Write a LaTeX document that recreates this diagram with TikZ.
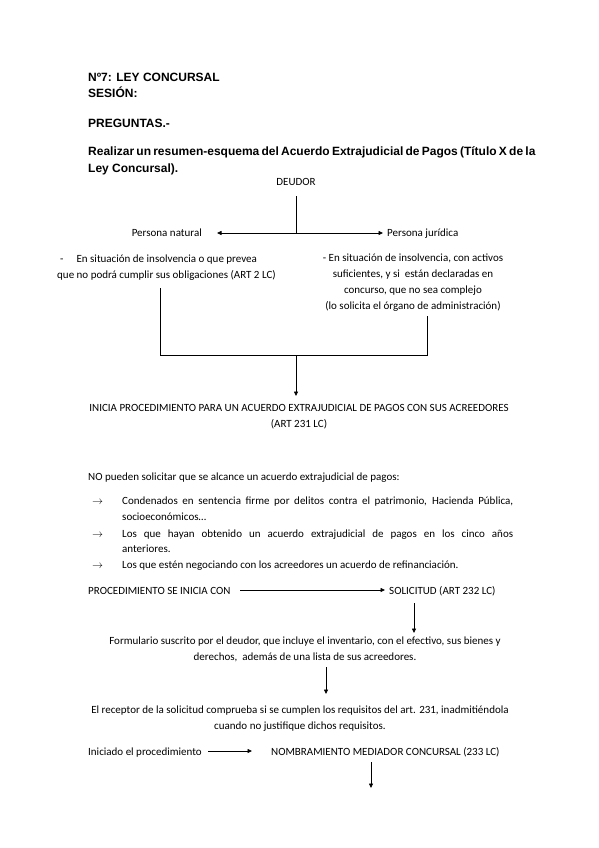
\documentclass[tikz,border=0pt]{standalone}
\usepackage{fontspec}
\setmainfont{Carlito}
\newfontfamily\headfont{Liberation Sans}
\usetikzlibrary{arrows.meta}

\def \lineWidth {0.8pt}
\def \bodySize {\fontsize{11}{16}\selectfont}

\tikzset{
  >={Triangle[length=4.5pt,width=4pt]},
  body/.style={font=\bodySize, inner sep=0pt},
  head/.style={font=\headfont\bfseries\fontsize{12}{16}\selectfont, inner sep=0pt, anchor=base west},
  conn/.style={line width=\lineWidth}
}

\begin{document}
\begin{tikzpicture}[x=1pt,y=-1pt]
   \useasboundingbox[fill=white] (0,0) rectangle (599,848);
   % cabecera
   \node[head] (num) at (88,82) {Nº7: LEY CONCURSAL};
   \node[head] (sesion) at (88,98) {SESIÓN:};
   \node[head] (preg) at (88,128) {PREGUNTAS.-};
   \node[head] (enun) at (88,155) {\makebox[427pt][s]{Realizar un resumen-esquema del Acuerdo Extrajudicial de Pagos (Título X de la}};
   \node[head] (enun2) at (88,172) {Ley Concursal).};

   % deudor (base = ultima linea)
   \node[body, anchor=base] (deudor) at (296,185) {DEUDOR};
   \node[body, anchor=base east] (natural) at (202,236) {Persona natural};
   \node[body, anchor=base west] (juridica) at (387,236) {Persona jurídica};
   \coordinate (split) at (296,233);
   \draw[conn] (296,196) -- (split);
   \draw[conn, ->] (split) -- (217,233);
   \draw[conn, ->] (split) -- (383,233);

   \node[body, anchor=base west, align=left] (natDesc) at (57,278)
      {\hspace{3pt}-\hspace{13pt}En situación de insolvencia o que prevea\\que no podrá cumplir sus obligaciones (ART 2 LC)};
   \node[body, anchor=base, align=center] (jurDesc) at (413,309)
      {- En situación de insolvencia, con activos\\suficientes, y si\ \ están declaradas en\\concurso, que no sea complejo\\(lo solicita el órgano de administración)};

   \node[body, anchor=base, align=center] (inicia) at (299,427)
      {INICIA PROCEDIMIENTO PARA UN ACUERDO EXTRAJUDICIAL DE PAGOS CON SUS ACREEDORES\\(ART 231 LC)};
   \coordinate (join) at (296,355);
   \draw[conn] (160,288) |- (427,355) -- (427,316);
   \draw[conn, ->] (join) -- (296,396);

   % prohibiciones
   \node[body, anchor=base west] (no) at (88,480) {NO pueden solicitar que se alcance un acuerdo extrajudicial de pagos:};
   \foreach \y/\t in {504/{\makebox[391pt][s]{Condenados en sentencia firme por delitos contra el patrimonio, Hacienda Pública,}},
                      520/{socioeconómicos…},
                      537/{\makebox[391pt][s]{Los que hayan obtenido un acuerdo extrajudicial de pagos en los cinco años}},
                      552/{anteriores.},
                      568/{Los que estén negociando con los acreedores un acuerdo de refinanciación.}}
      \node[body, anchor=base west] at (122,\y) {\t};
   \foreach \y in {504,537,568}
      \node[body, anchor=base west] at (92,\y) {$\rightarrow$};

   % procedimiento
   \node[body, anchor=base west] (proc) at (88,594) {PROCEDIMIENTO SE INICIA CON};
   \node[body, anchor=base west] (solic) at (389,594) {SOLICITUD (ART 232 LC)};
   \draw[conn, ->] (240,590) -- (385,590);

   \node[body, anchor=base, align=center] (form) at (305,660)
      {Formulario suscrito por el deudor, que incluye el inventario, con el efectivo, sus bienes y\\derechos,\ \ además de una lista de sus acreedores.};
   \draw[conn, ->] (414,603) -- (414,633);

   \node[body, anchor=base, align=center] (recep) at (300,729)
      {El receptor de la solicitud comprueba si se cumplen los requisitos del art. 231, inadmitiéndola\\cuando no justifique dichos requisitos.};
   \draw[conn, ->] (326,667) -- (326,694);

   \node[body, anchor=base west] (inic) at (88,755) {Iniciado el procedimiento};
   \node[body, anchor=base west] (nomb) at (271,755) {NOMBRAMIENTO MEDIADOR CONCURSAL (233 LC)};
   \draw[conn, ->] (208,751) -- (252,751);
   \coordinate (tail) at (371,788);
   \draw[conn, ->] (371,762) -- (tail);
\end{tikzpicture}
\end{document}
